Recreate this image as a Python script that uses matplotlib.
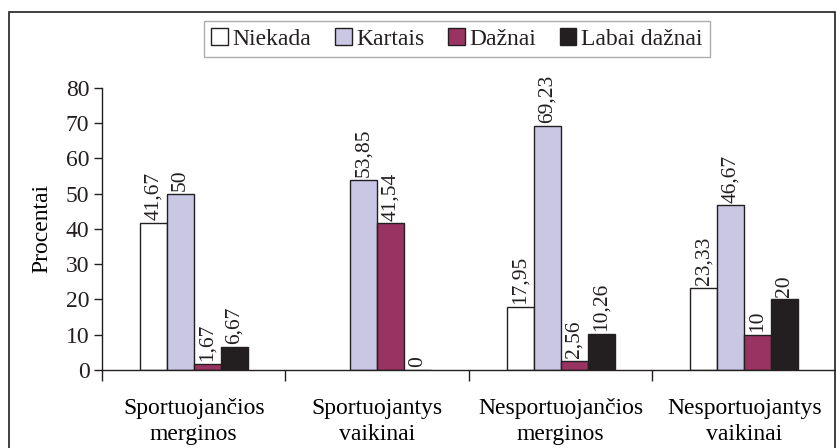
import numpy as np
import matplotlib
matplotlib.use("Agg")
import matplotlib.pyplot as plt
from matplotlib.patches import Rectangle

# -------------------------------
# Data
# -------------------------------
categories = ["Sportuojančios\nmerginos", "Sportuojantys\nvaikinai",
              "Nesportuojančios\nmerginos", "Nesportuojantys\nvaikinai"]
series_names = ["Niekada", "Kartais", "Dažnai", "Labai dažnai"]
niekada = [41.67, np.nan, 17.95, 23.33]
kartais = [50, 53.85, 69.23, 46.67]
daznai = [1.67, 41.54, 2.56, 10]
labai_daznai = [6.67, 0, 10.26, 20]
colors = ["#ffffff", "#c9c7e3", "#993361", "#231f20"]

plt.rcParams["font.family"] = ["Liberation Serif", "DejaVu Serif"]
plt.rcParams["font.size"] = 16
plt.rcParams["text.color"] = "#231f20"

fig = plt.figure(figsize=(8.36, 4.48), dpi=100)
ax = fig.add_axes([0.122, 0.174, 0.878, 0.630])

# outer frame around the chart
fig.patches.append(Rectangle((9 / 836, -0.05), 825.5 / 836, 1.05 - 12 / 448,
                             transform=fig.transFigure, fill=False,
                             edgecolor="#231f20", lw=1.2))

x = np.arange(1, len(categories) + 1)
w = 0.147
all_series = [niekada, kartais, daznai, labai_daznai]

for i, (vals, name, col) in enumerate(zip(all_series, series_names, colors)):
    pos = x + (i - 1.5) * w
    ax.bar(pos, vals, width=w, color=col, edgecolor="#231f20", lw=1, label=name)
    for p, v in zip(pos, vals):
        if np.isnan(v):
            continue
        txt = f"{v:g}".replace(".", ",")
        if v != int(v):
            txt = f"{v:.2f}".replace(".", ",")
        ax.text(p, v + 0.8, txt, rotation=90, ha="center", va="bottom",
                fontsize=15.5, color="#231f20")

ax.set_xlim(0.5, 4.5)
ax.set_ylim(0, 80)
ax.set_yticks(range(0, 81, 10))
ax.set_xticks(np.arange(0.5, 4.6, 1))
ax.set_xticklabels([])
ax.set_xticks(x, minor=True)
ax.set_xticklabels(categories, minor=True, linespacing=1.3, fontsize=17)
ax.tick_params(axis="x", which="minor", length=0, pad=20)
ax.tick_params(axis="x", which="major", length=8, direction="out",
               width=1, color="#231f20")
ax.tick_params(axis="y", length=6, width=1, color="#231f20", pad=3,
               labelsize=17, labelcolor="#231f20")

for s in ["top", "right"]:
    ax.spines[s].set_visible(False)
for s in ["left", "bottom"]:
    ax.spines[s].set_color("#231f20")
    ax.spines[s].set_linewidth(1)

ax.set_ylabel("Procentai", labelpad=10, fontsize=17)

fig.legend(loc="center", bbox_to_anchor=(457 / 836, 1 - 39 / 448), ncol=4,
           frameon=True, fancybox=False, edgecolor="#999999",
           handlelength=0.7, handleheight=0.7, handletextpad=0.2,
           columnspacing=1.0, borderpad=0.3, fontsize=17)

plt.savefig("out.png", dpi=100)
